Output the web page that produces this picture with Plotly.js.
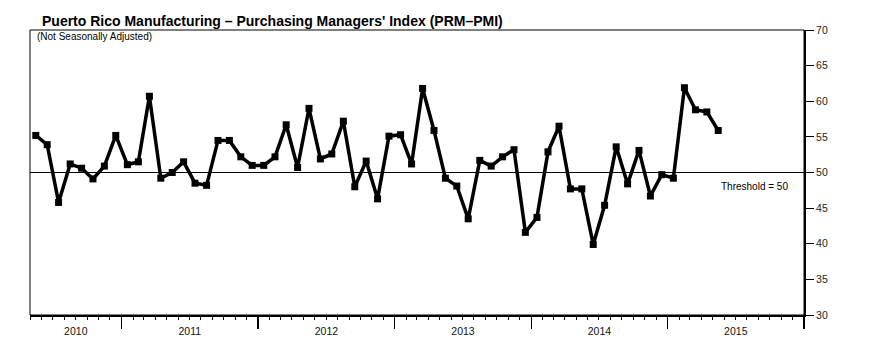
<!DOCTYPE html>
<html>
<head>
<meta charset="utf-8">
<script src="https://cdn.plot.ly/plotly-3.0.1.min.js"></script>
<style>html,body{margin:0;padding:0;background:#fff;}#chart{width:869px;height:364px;}</style>
</head>
<body>
<div id="chart"></div>
<script>
// Data: monthly PRM-PMI, May 2010 .. May 2015
const startYear = 2010, startMonth = 5; // May 2010
const pmiValues = [
  55.2, 53.9, 45.8, 51.2, 50.6, 49.1, 50.9, 55.2,          // 2010 May-Dec
  51.1, 51.5, 60.7, 49.2, 50.0, 51.5, 48.5, 48.2, 54.5, 54.5, 52.2, 51.0, // 2011
  51.0, 52.2, 56.7, 50.7, 59.0, 51.9, 52.6, 57.2, 48.0, 51.6, 46.3, 55.1, // 2012
  55.3, 51.2, 61.8, 55.9, 49.2, 48.1, 43.5, 51.7, 50.9, 52.2, 53.2, 41.6, // 2013
  43.7, 52.9, 56.5, 47.7, 47.7, 39.9, 45.4, 53.6, 48.4, 53.1, 46.7, 49.7, // 2014
  49.2, 61.9, 58.8, 58.5, 55.9                                      // 2015 Jan-May
];
const years = [2010, 2011, 2012, 2013, 2014, 2015];
const yTicks = [30, 35, 40, 45, 50, 55, 60, 65, 70];
const threshold = 50;
const xRange = ['2010-05-01', '2016-01-01'];

const months = pmiValues.map((v, i) => {
  const m = startMonth - 1 + i;
  const y = startYear + Math.floor(m / 12);
  const mm = (m % 12) + 1;
  return y + '-' + String(mm).padStart(2, '0') + '-01';
});

// Year label positions: middle of visible part of each year
const r0 = Date.parse(xRange[0] + 'T00:00:00Z'), r1 = Date.parse(xRange[1] + 'T00:00:00Z');
const yearCenters = years.map(y => {
  const s = Math.max(Date.UTC(y, 0, 1), r0);
  const e = Math.min(Date.UTC(y + 1, 0, 1), r1);
  return new Date((s + e) / 2).toISOString().slice(0, 19).replace('T', ' ');
});

const font = 'Liberation Sans, Arial, Helvetica, sans-serif';

const traces = [
  {
    x: months, y: pmiValues, type: 'scatter', mode: 'lines+markers',
    xperiod: 'M1', xperiodalignment: 'middle',
    line: {color: '#000', width: 3.5},
    marker: {symbol: 'square', size: 7, color: '#000'},
    hoverinfo: 'x+y', showlegend: false
  },
  {
    x: yearCenters, y: years.map(() => null), xaxis: 'x2', yaxis: 'y',
    type: 'scatter', mode: 'markers', showlegend: false, hoverinfo: 'skip'
  }
];

const layout = {
  width: 869, height: 364,
  margin: {l: 30, r: 65, t: 30, b: 49},
  paper_bgcolor: '#fff', plot_bgcolor: '#fff',
  font: {family: font, color: '#000'},
  title: {
    text: '<b>Puerto Rico Manufacturing \u2013 Purchasing Managers\' Index (PRM\u2013PMI)</b>',
    font: {family: font, size: 14, color: '#000'},
    x: 42 / 869, xanchor: 'left', xref: 'container',
    y: 1 - 21 / 364, yanchor: 'middle', yref: 'container'
  },
  xaxis: {
    type: 'date', range: xRange,
    tick0: '2010-01-01', dtick: 'M12',
    ticks: 'outside', ticklen: 12, tickwidth: 1.2, tickcolor: '#000',
    showticklabels: false,
    minor: {dtick: 'M1', tick0: '2010-01-01', ticks: 'outside', ticklen: 3, tickwidth: 1, tickcolor: '#000', showgrid: false},
    showgrid: false, zeroline: false,
    showline: true, linecolor: '#000', linewidth: 2,
    fixedrange: true
  },
  xaxis2: {
    type: 'date', overlaying: 'x', matches: 'x', anchor: 'y', side: 'bottom',
    tickmode: 'array', tickvals: yearCenters, ticktext: years.map(String),
    ticks: '', showgrid: false, zeroline: false, showline: false,
    tickfont: {family: font, size: 10.5, color: '#111'},
    ticklabelstandoff: 8
  },
  yaxis: {
    side: 'right', range: [30, 70],
    tickmode: 'array', tickvals: yTicks, ticktext: yTicks.map(String),
    ticks: 'outside', ticklen: 8, tickwidth: 1, tickcolor: '#000',
    tickfont: {family: font, size: 10.5, color: '#222'},
    showgrid: false, zeroline: false,
    showline: true, linecolor: '#000', linewidth: 2,
    fixedrange: true
  },
  shapes: [
    {type: 'rect', xref: 'paper', yref: 'paper', x0: 0, x1: 1, y0: 0, y1: 1,
     line: {color: '#000', width: 1}, layer: 'below'},
    {type: 'line', xref: 'paper', yref: 'y', x0: 0, x1: 1, y0: threshold, y1: threshold,
     line: {color: '#000', width: 1}, layer: 'below'}
  ],
  annotations: [
    {text: '(Not Seasonally Adjusted)', xref: 'paper', yref: 'paper', x: 0, y: 1,
     xanchor: 'left', yanchor: 'top', xshift: 5, yshift: 1, showarrow: false,
     font: {family: font, size: 10, color: '#000'}},
    {text: 'Threshold = ' + threshold, xref: 'paper', yref: 'y', x: 1, y: threshold,
     xanchor: 'right', yanchor: 'top', xshift: -14, yshift: -6, showarrow: false,
     font: {family: font, size: 10, color: '#000'}}
  ]
};

Plotly.newPlot('chart', traces, layout, {displayModeBar: false, staticPlot: true});
</script>
</body>
</html>
